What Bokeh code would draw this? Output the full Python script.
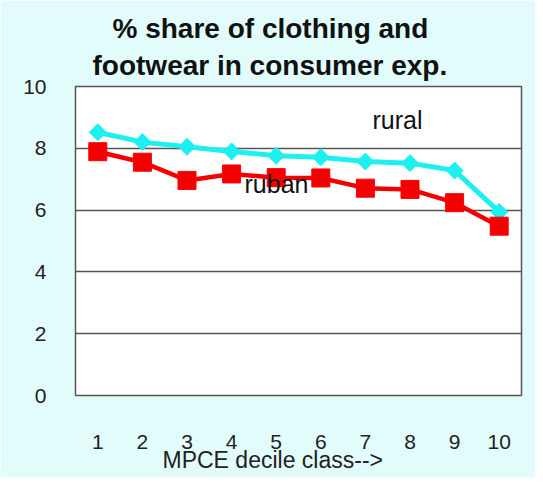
import numpy as np
from bokeh.plotting import figure
from bokeh.models import Range1d, FixedTicker, Label, ColumnDataSource, Title
from bokeh.embed import file_html
from bokeh.resources import INLINE

# ---- data ----
deciles = [1, 2, 3, 4, 5, 6, 7, 8, 9, 10]
rural = [8.52, 8.20, 8.05, 7.90, 7.76, 7.71, 7.57, 7.52, 7.28, 5.94]
urban = [7.89, 7.55, 6.96, 7.17, 7.05, 7.04, 6.71, 6.67, 6.24, 5.48]
y_ticks = [0, 2, 4, 6, 8, 10]
title_lines = ["% share of clothing and", "footwear in consumer exp."]
x_title = "MPCE decile class-->"
series_names = ["rural", "ruban"]

FONT = "Liberation Sans"
CYAN = "#1CF0F0"
RED = "#F50000"

p = figure(width=535, height=477, output_backend="svg", toolbar_location=None,
           title=None, x_range=Range1d(0.5, 10.5), y_range=Range1d(0, 10),
           min_border_left=75, min_border_right=14, min_border_top=86, min_border_bottom=82)

p.border_fill_color = "#E2FCFC"
p.background_fill_color = "white"
p.outline_line_color = "#555555"
p.outline_line_width = 1.5

p.xgrid.grid_line_color = None
p.ygrid.grid_line_color = "#555555"
p.ygrid.grid_line_width = 1.5

p.xaxis.ticker = FixedTicker(ticks=deciles)
p.yaxis.ticker = FixedTicker(ticks=y_ticks)
for ax in (p.xaxis, p.yaxis):
    ax.axis_line_color = None
    ax.major_tick_line_color = None
    ax.minor_tick_line_color = None
    ax.major_label_text_font = FONT
    ax.major_label_text_font_size = "21px"
    ax.major_label_text_color = "#222222"
p.xaxis.major_label_standoff = 33
p.yaxis.major_label_standoff = 23

src = ColumnDataSource(dict(x=deciles, rural=rural, urban=urban))

p.line("x", "rural", source=src, line_color=CYAN, line_width=5)
p.scatter("x", "rural", source=src, marker="square", angle=np.pi / 4, size=12,
          fill_color=CYAN, line_color=CYAN)
p.line("x", "urban", source=src, line_color=RED, line_width=4.5)
p.scatter("x", "urban", source=src, marker="square", size=18,
          fill_color=RED, line_color=RED)

# in-plot series labels
p.add_layout(Label(x=7.16, y=8.93, text=series_names[0], text_font=FONT,
                   text_font_size="25px", text_color="#111111",
                   text_align="left", text_baseline="alphabetic"))
p.add_layout(Label(x=4.29, y=6.83, text=series_names[1], text_font=FONT,
                   text_font_size="25px", text_color="#111111",
                   text_align="left", text_baseline="alphabetic"))

# title lines (second line added first: nearest the frame)
p.add_layout(Title(text=title_lines[1], align="left", offset=17, standoff=12,
                   text_font=FONT, text_font_size="28px", text_font_style="bold",
                   text_color="#111111"), "above")
p.add_layout(Title(text=title_lines[0], align="left", offset=37, standoff=-4,
                   text_font=FONT, text_font_size="28px", text_font_style="bold",
                   text_color="#111111"), "above")

# x axis title
p.add_layout(Title(text=x_title, align="left", offset=87, standoff=-10,
                   vertical_align="top",
                   text_font=FONT, text_font_size="23px", text_font_style="normal",
                   text_color="#222222"), "below")

open("out.html", "w").write(file_html(p, INLINE))
